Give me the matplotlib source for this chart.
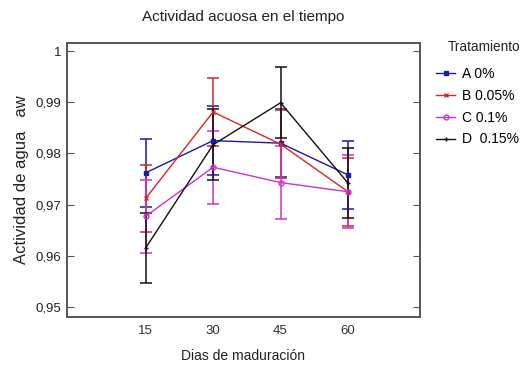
import matplotlib
matplotlib.use("Agg")
import matplotlib.pyplot as plt
from matplotlib.lines import Line2D

plt.rcParams["font.family"] = ["Liberation Sans", "DejaVu Sans"]

# days of ripening and water activity means per treatment
DAYS = [15, 30, 45, 60]
TREATMENTS = ["A 0%", "B 0.05%", "C 0.1%", "D  0.15%"]
AW_A = [0.9762, 0.9825, 0.9820, 0.9758]
AW_B = [0.9712, 0.9881, 0.9818, 0.9725]
AW_C = [0.9677, 0.9773, 0.9743, 0.9725]
AW_D = [0.9615, 0.9817, 0.9899, 0.9742]
# half-width of the interval bars
ERR = [0.0067, 0.0066, 0.0071, 0.0069]

Y_TICKS = [0.95, 0.96, 0.97, 0.98, 0.99, 1.0]
Y_LABELS = ["0,95", "0,96", "0,97", "0,98", "0,99", "1"]

COLORS = ["#1c1c9c", "#d02828", "#d030d0", "#111111"]
MARKERS = ["s", "x", "o", "+"]

fig = plt.figure(figsize=(5.23, 3.70), dpi=100)
ax = fig.add_axes([0.128, 0.143, 0.675, 0.741])

series = [AW_A, AW_B, AW_C, AW_D]
handles = []
for i, vals in enumerate(series):
    face = "none" if MARKERS[i] == "o" else COLORS[i]
    ax.errorbar(DAYS, vals, yerr=ERR[i], color=COLORS[i], ecolor=COLORS[i],
                lw=1.0, elinewidth=1.1, capsize=4.5, capthick=1.1,
                marker=MARKERS[i], ms=3.5, mfc=face, mec=COLORS[i])
    handles.append(Line2D([], [], color=COLORS[i], lw=1.0, marker=MARKERS[i],
                          ms=3.5, mfc=face, mec=COLORS[i], label=TREATMENTS[i]))

ax.set_xlim(-2.5, 76)
ax.set_ylim(0.948, 1.0016)
ax.set_xticks(DAYS)
ax.set_xticklabels([str(d) for d in DAYS], fontsize=9.5)
ax.set_yticks(Y_TICKS)
ax.set_yticklabels(Y_LABELS, fontsize=9.5)
ax.tick_params(axis="x", length=0, pad=6, colors="#333333")
ax.tick_params(axis="y", direction="in", length=5, right=True, colors="#555555",
               labelcolor="#222222", pad=4)

for sp in ax.spines.values():
    sp.set_color("#555555")
    sp.set_linewidth(1.4)

ax.set_title("Actividad acuosa en el tiempo", fontsize=11, color="#222222", pad=16)
ax.set_xlabel("Dias de maduración", fontsize=10, color="#222222", labelpad=8)
ax.set_ylabel("Actividad de agua   aw", fontsize=12, color="#222222", labelpad=5)

# legend title placed on its own so the entries can be spaced freely
ax.text(1.079, 0.985, "Tratamiento", transform=ax.transAxes, fontsize=9.8,
        color="#222222", ha="left", va="center")
ax.legend(handles=handles, loc="upper left", bbox_to_anchor=(1.045, 0.912),
          frameon=False, fontsize=10, handlelength=1.4, handletextpad=0.45,
          labelspacing=0.56, borderaxespad=0.0, borderpad=0.0)

fig.savefig("out.png", dpi=100)
